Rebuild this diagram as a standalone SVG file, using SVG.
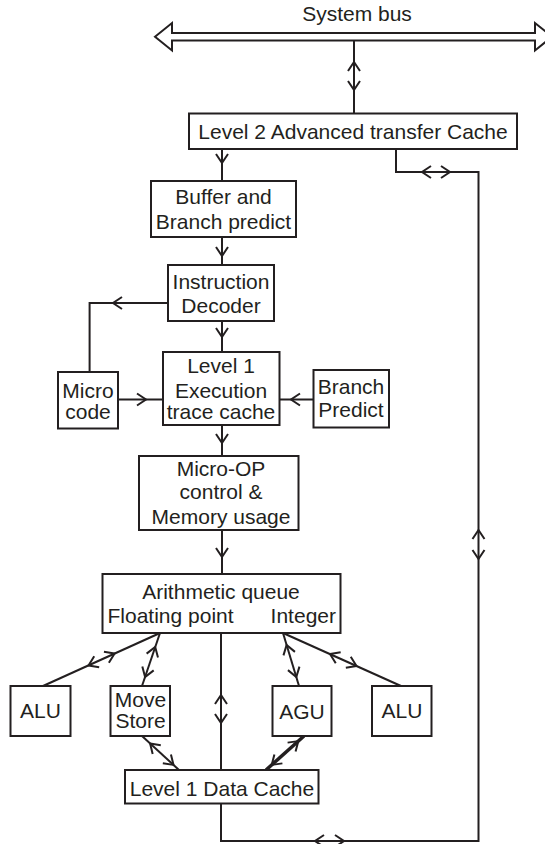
<svg xmlns="http://www.w3.org/2000/svg" width="545" height="844" viewBox="0 0 545 844">
<style>
.bx{fill:#fff;stroke:#231f20;stroke-width:2}
.ln{fill:none;stroke:#231f20;stroke-width:2}
.thk{fill:none;stroke:#231f20;stroke-width:3.5}
.ch{fill:none;stroke:#231f20;stroke-width:2}
text{font-family:"Liberation Sans",Arial,Helvetica,sans-serif;font-size:21px;fill:#231f20}
.m{text-anchor:middle}
.e{text-anchor:end}
</style>
<defs>
<path id="ch" class="ch" d="M-9,-6 L0,0 L-9,6"/>
</defs>
<rect width="545" height="844" fill="#fff"/>

<g id="system-bus">
<polygon class="ln" points="155,36.7 172,23 172,33 535,33 535,23 552,36.7 535,50.5 535,40.5 172,40.5 172,50.5"/>
<text class="m" x="357" y="21">System bus</text>
</g>

<g id="connectors">
<line class="ln" x1="354" y1="40.5" x2="354" y2="113"/>
<use href="#ch" transform="translate(354,62) rotate(-90)"/>
<use href="#ch" transform="translate(354,90) rotate(90)"/>

<line class="ln" x1="222" y1="149" x2="222" y2="181"/>
<use href="#ch" transform="translate(222,163) rotate(90)"/>

<polyline class="ln" points="396,149 396,172 478.5,172 478.5,841 221,841 221,803"/>
<use href="#ch" transform="translate(422,172) rotate(180)"/>
<use href="#ch" transform="translate(450,172)"/>
<use href="#ch" transform="translate(478.5,530) rotate(-90)"/>
<use href="#ch" transform="translate(478.5,559) rotate(90)"/>
<use href="#ch" transform="translate(315,841) rotate(180)"/>
<use href="#ch" transform="translate(344,841)"/>

<line class="ln" x1="222" y1="237" x2="222" y2="265"/>
<use href="#ch" transform="translate(222,256) rotate(90)"/>

<line class="ln" x1="222" y1="321" x2="222" y2="352"/>
<use href="#ch" transform="translate(222,337) rotate(90)"/>

<polyline class="ln" points="168,303 89.6,303 89.6,372"/>
<use href="#ch" transform="translate(113,303) rotate(180)"/>

<line class="ln" x1="118" y1="399.5" x2="163" y2="399.5"/>
<use href="#ch" transform="translate(146,399.5)"/>

<line class="ln" x1="313.5" y1="399.5" x2="279.5" y2="399.5"/>
<use href="#ch" transform="translate(291,399.5) rotate(180)"/>

<line class="ln" x1="222" y1="425" x2="222" y2="456"/>
<use href="#ch" transform="translate(222,443) rotate(90)"/>

<line class="ln" x1="222" y1="530" x2="222" y2="574"/>
<use href="#ch" transform="translate(222,557) rotate(90)"/>

<line class="ln" x1="160" y1="633" x2="43" y2="686"/>
<use href="#ch" transform="translate(114.6,653.6) rotate(-24.4)"/>
<use href="#ch" transform="translate(88.5,665.4) rotate(155.6)"/>

<line class="ln" x1="160" y1="633" x2="142" y2="686"/>
<use href="#ch" transform="translate(155.2,647) rotate(-71.2)"/>
<use href="#ch" transform="translate(145.1,677) rotate(108.8)"/>

<line class="ln" x1="221" y1="633" x2="221" y2="770"/>
<use href="#ch" transform="translate(221,695) rotate(-90)"/>
<use href="#ch" transform="translate(221,723) rotate(90)"/>

<line class="ln" x1="283" y1="633" x2="299" y2="686"/>
<use href="#ch" transform="translate(286.6,645) rotate(-106.8)"/>
<use href="#ch" transform="translate(296.3,677) rotate(73.2)"/>

<line class="ln" x1="283" y1="633" x2="401" y2="686"/>
<use href="#ch" transform="translate(330,654.1) rotate(-155.8)"/>
<use href="#ch" transform="translate(356.5,666) rotate(24.2)"/>

<line class="ln" x1="142" y1="736" x2="179" y2="770"/>
<use href="#ch" transform="translate(150.1,743.5) rotate(-137.4)"/>
<use href="#ch" transform="translate(173.5,764.9) rotate(42.6)"/>

<line class="thk" x1="304" y1="736" x2="266" y2="770"/>
<use href="#ch" transform="translate(298.3,741.1) rotate(-41.8)"/>
<use href="#ch" transform="translate(271.7,764.9) rotate(138.2)"/>
</g>

<g id="l2-cache">
<rect class="bx" x="189" y="113.5" width="328" height="35.5"/>
<text class="m" x="353" y="139">Level 2 Advanced transfer Cache</text>
</g>

<g id="buffer">
<rect class="bx" x="151" y="181" width="145" height="56"/>
<text class="m" x="223.5" y="204">Buffer and</text>
<text class="m" x="223.5" y="229">Branch predict</text>
</g>

<g id="decoder">
<rect class="bx" x="168" y="265" width="106" height="56"/>
<text class="m" x="221" y="289">Instruction</text>
<text class="m" x="221" y="312.5">Decoder</text>
</g>

<g id="l1-trace">
<rect class="bx" x="163" y="352" width="116.5" height="73"/>
<text class="m" x="221" y="372.5">Level 1</text>
<text class="m" x="221" y="397.5">Execution</text>
<text class="m" x="221" y="419">trace cache</text>
</g>

<g id="microcode">
<rect class="bx" x="58" y="372" width="60" height="56.5"/>
<text class="m" x="88" y="397.5">Micro</text>
<text class="m" x="88" y="419">code</text>
</g>

<g id="branch-predict">
<rect class="bx" x="313.5" y="370" width="75.5" height="57.5"/>
<text class="m" x="351" y="394">Branch</text>
<text class="m" x="351" y="416.5">Predict</text>
</g>

<g id="micro-op">
<rect class="bx" x="139" y="456" width="159.5" height="74"/>
<text class="m" x="221" y="476">Micro-OP</text>
<text class="m" x="221" y="499">control &amp;</text>
<text class="m" x="221" y="524">Memory usage</text>
</g>

<g id="arith-queue">
<rect class="bx" x="102.5" y="574" width="238" height="59"/>
<text class="m" x="221" y="599">Arithmetic queue</text>
<text x="107.5" y="622.5">Floating point</text>
<text class="e" x="336" y="622.5">Integer</text>
</g>

<g id="alu-fp">
<rect class="bx" x="10.5" y="686" width="60" height="50"/>
<text class="m" x="40.5" y="718">ALU</text>
</g>

<g id="move-store">
<rect class="bx" x="110.5" y="686" width="59.5" height="50"/>
<text class="m" x="140.5" y="707">Move</text>
<text class="m" x="140.5" y="728">Store</text>
</g>

<g id="agu">
<rect class="bx" x="272.5" y="686" width="59" height="50"/>
<text class="m" x="302" y="719">AGU</text>
</g>

<g id="alu-int">
<rect class="bx" x="372" y="686" width="59.5" height="50"/>
<text class="m" x="402" y="718">ALU</text>
</g>

<g id="l1-data">
<rect class="bx" x="125" y="770" width="193.5" height="33.5"/>
<text class="m" x="222" y="796">Level 1 Data Cache</text>
</g>
</svg>
